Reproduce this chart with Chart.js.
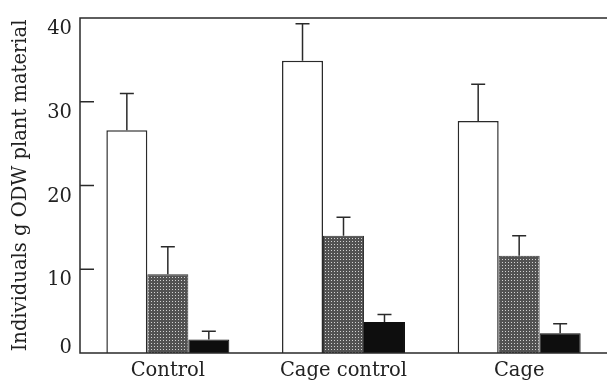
<!DOCTYPE html>
<html>
<head>
<meta charset="utf-8">
<script src="https://cdn.jsdelivr.net/npm/chart.js@4.4.0/dist/chart.umd.min.js"></script>
<style>
    html, body { margin: 0; padding: 0; background: #fff; }
    #wrap { width: 608px; height: 382px; }
</style>
</head>
<body>
<div id="wrap"><canvas id="chart"></canvas></div>
<script>
// values
var categories = ['Control', 'Cage control', 'Cage'];
var whiteValues = [26.6, 34.9, 27.7];
var greyValues = [9.4, 14.0, 11.6];
var blackValues = [1.6, 3.7, 2.35];
var whiteErrors = [4.4, 4.4, 4.4];
var greyErrors = [3.3, 2.2, 2.4];
var blackErrors = [1.0, 0.9, 1.15];
var yTicks = [0, 10, 20, 30, 40];

var lineColor = '#2a2a2a';
var textColor = '#222';
var serif = "'DejaVu Serif', 'Liberation Serif', serif";
var fontSize = 19.5;

// stippled grey fill, dark with small light dots
function stipple() {
    var c = document.createElement('canvas');
    c.width = 3;
    c.height = 3;
    var g = c.getContext('2d');
    g.fillStyle = '#525252';
    g.fillRect(0, 0, 3, 3);
    g.fillStyle = '#d2d2d2';
    g.fillRect(1, 1, 1, 1);
    return g.createPattern(c, 'repeat');
}

var ctx = document.getElementById('chart').getContext('2d');

// upward error bars with a cap
var errorBars = {
    id: 'errorBars',
    afterDatasetsDraw: function (chart) {
        var c = chart.ctx;
        var y = chart.scales.y;
        c.save();
        c.strokeStyle = lineColor;
        c.lineWidth = 1.5;
        chart.data.datasets.forEach(function (ds, i) {
            var meta = chart.getDatasetMeta(i);
            meta.data.forEach(function (bar, j) {
                var top = y.getPixelForValue(ds.data[j] + ds.errors[j]);
                c.beginPath();
                c.moveTo(bar.x, bar.y);
                c.lineTo(bar.x, top);
                c.moveTo(bar.x - 7, top);
                c.lineTo(bar.x + 7, top);
                c.stroke();
            });
        });
        c.restore();
    }
};

// left/top/bottom frame, inward ticks, and y labels hanging just under each tick
var frame = {
    id: 'frame',
    afterDraw: function (chart) {
        var c = chart.ctx;
        var a = chart.chartArea;
        var y = chart.scales.y;
        c.save();
        c.strokeStyle = lineColor;
        c.lineWidth = 1.5;
        c.beginPath();
        c.moveTo(a.right, a.top);
        c.lineTo(a.left, a.top);
        c.lineTo(a.left, a.bottom);
        c.lineTo(a.right, a.bottom);
        yTicks.forEach(function (t) {
            if (t === 0 || t === 40) return;
            var py = y.getPixelForValue(t);
            c.moveTo(a.left, py);
            c.lineTo(a.left + 14, py);
        });
        c.stroke();

        c.fillStyle = textColor;
        c.font = fontSize + 'px ' + serif;
        c.textAlign = 'right';
        c.textBaseline = 'alphabetic';
        yTicks.forEach(function (t) {
            var py = y.getPixelForValue(t);
            var base = Math.min(py + 16, a.bottom);
            c.fillText(String(t), a.left - 8, base);
        });
        c.restore();
    }
};

new Chart(ctx, {
    type: 'bar',
    data: {
        labels: categories,
        datasets: [{
            data: whiteValues,
            errors: whiteErrors,
            backgroundColor: '#fff',
            borderColor: lineColor,
            borderWidth: 1.5
        }, {
            data: greyValues,
            errors: greyErrors,
            backgroundColor: stipple(),
            borderColor: '#333',
            borderWidth: 1
        }, {
            data: blackValues,
            errors: blackErrors,
            backgroundColor: '#0e0e0e',
            borderColor: '#0e0e0e',
            borderWidth: 1
        }]
    },
    options: {
        responsive: true,
        maintainAspectRatio: false,
        animation: false,
        layout: { padding: { top: 18, right: 1, left: 0, bottom: 0 } },
        datasets: {
            bar: { categoryPercentage: 0.7, barPercentage: 1.0 }
        },
        plugins: {
            legend: { display: false },
            tooltip: { enabled: false }
        },
        scales: {
            x: {
                grid: { display: false },
                border: { display: false },
                ticks: {
                    color: textColor,
                    padding: 0,
                    font: { family: serif, size: fontSize, lineHeight: 1 }
                },
                afterFit: function (scale) { scale.height = 29; }
            },
            y: {
                min: 0,
                max: 40,
                grid: { display: false },
                border: { display: false },
                ticks: { display: false, stepSize: 10 },
                title: {
                    display: true,
                    text: 'Individuals g ODW plant material',
                    color: textColor,
                    padding: { top: 9, bottom: 0 },
                    font: { family: serif, size: fontSize }
                },
                afterFit: function (scale) { scale.width = 80; }
            }
        }
    },
    plugins: [errorBars, frame]
});
</script>
</body>
</html>
